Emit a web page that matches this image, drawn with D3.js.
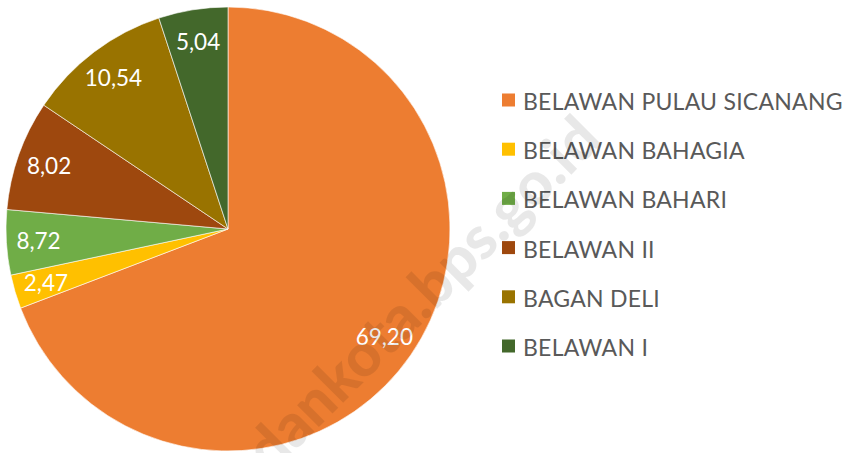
<!DOCTYPE html>
<html lang="en">
<head>
    <meta charset="UTF-8">
    <title>Pie chart</title>
    <script src="https://cdn.jsdelivr.net/npm/d3@7"></script>
    <style>
        body { margin: 0; background: #fff; }
        .slice-label { fill: #fff; font-family: Lato, sans-serif; font-size: 22.5px; text-anchor: middle; dominant-baseline: central; }
        .legend-text { fill: #595959; font-family: Lato, sans-serif; font-size: 23px; letter-spacing: 0.25px; dominant-baseline: central; }
    </style>
</head>
<body>
    <svg id="chart" width="851" height="453"></svg>

    <script>
        const categories = ["BELAWAN PULAU SICANANG", "BELAWAN BAHAGIA", "BELAWAN BAHARI", "BELAWAN II", "BAGAN DELI", "BELAWAN I"];
        // slice sizes as drawn; the printed label for BELAWAN BAHARI reads 8,72
        const values = [69.20, 2.47, 4.73, 8.02, 10.54, 5.04];
        const labels = ["69,20", "2,47", "8,72", "8,02", "10,54", "5,04"];
        const colors = ["#ED7D31", "#FFC000", "#70AD47", "#9E480E", "#997300", "#43682B"];

        const CX = 228, CY = 229, R = 222;

        const svg = d3.select("#chart");
        const g = svg.append("g").attr("transform", `translate(${CX},${CY})`);

        const pie = d3.pie().sort(null).value(d => d);
        const arcs = pie(values);
        const arc = d3.arc().innerRadius(0).outerRadius(R);
        const labelArc = d3.arc().innerRadius(R * 0.855).outerRadius(R * 0.855);

        g.selectAll("path")
            .data(arcs)
            .join("path")
            .attr("d", arc)
            .attr("fill", (d, i) => colors[i])
            .attr("stroke", "#fff")
            .attr("stroke-width", 0.6);

        g.selectAll("text")
            .data(arcs)
            .join("text")
            .attr("class", "slice-label")
            .attr("transform", d => `translate(${labelArc.centroid(d)})`)
            .text((d, i) => labels[i]);

        // legend
        const legend = svg.append("g").attr("transform", "translate(502,100)");
        const rows = legend.selectAll("g")
            .data(categories)
            .join("g")
            .attr("transform", (d, i) => `translate(0,${i * 49.2})`);
        rows.append("rect")
            .attr("x", 0).attr("y", -6.5)
            .attr("width", 13).attr("height", 13)
            .attr("fill", (d, i) => colors[i]);
        rows.append("text")
            .attr("class", "legend-text")
            .attr("x", 21).attr("y", 1)
            .text(d => d);

        // watermark
        svg.append("text")
            .attr("transform", "translate(604,142) rotate(-45)")
            .attr("text-anchor", "end")
            .attr("font-family", "Lato, sans-serif")
            .attr("font-weight", 900)
            .attr("font-size", 60)
            .attr("fill", "#000")
            .attr("fill-opacity", 0.09)
            .text("medankota.bps.go.id");
    </script>
</body>
</html>
